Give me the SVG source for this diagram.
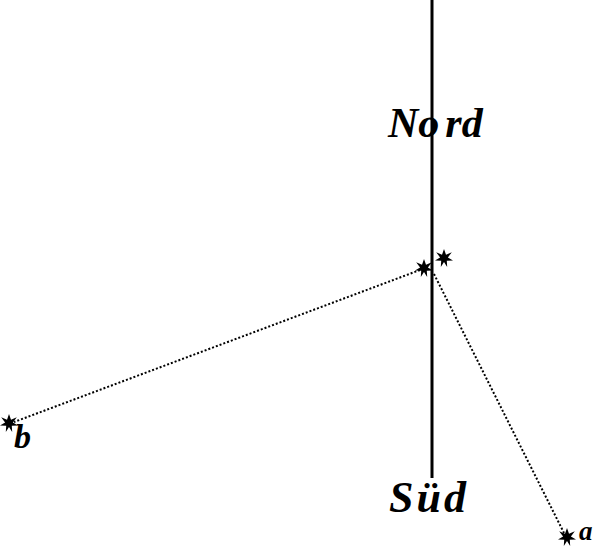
<svg xmlns="http://www.w3.org/2000/svg" xmlns:xlink="http://www.w3.org/1999/xlink" width="600" height="547" viewBox="0 0 600 547">
<style>
.lbl{font-family:"Liberation Serif","DejaVu Serif",serif;font-style:italic;font-weight:bold;fill:#000}
.dot{stroke:#000;stroke-width:2;stroke-dasharray:2 2;fill:none}
</style>
<defs>
<path id="star" d="M0,-9 L2,-3.2 L7.8,-5.8 L3.9,-0.6 L9,2.6 L2.8,2.8 L3.2,9 L0,3.9 L-3.2,9 L-2.8,2.8 L-9,2.6 L-3.9,-0.6 L-7.8,-5.8 L-2,-3.2 Z" fill="#000"/>
</defs>
<rect width="600" height="547" fill="#fff"/>
<g id="connectors">
<line x1="432" y1="0" x2="432" y2="478" stroke="#000" stroke-width="3"/>
<line class="dot" x1="420" y1="270" x2="14" y2="422"/>
<line class="dot" x1="434" y1="274" x2="564" y2="533"/>
</g>
<g id="nord"><text class="lbl" x="388" y="137" font-size="42">No<tspan dx="6">rd</tspan></text></g>
<g id="sued"><text class="lbl" x="389" y="512" font-size="44" letter-spacing="3">Süd</text></g>
<g id="center"><use xlink:href="#star" x="424" y="268"/><use xlink:href="#star" x="444" y="258"/></g>
<g id="b"><use xlink:href="#star" x="9" y="423"/><text class="lbl" x="14" y="448" font-size="34">b</text></g>
<g id="a"><use xlink:href="#star" x="567" y="537"/><text class="lbl" x="579" y="540" font-size="27">a</text></g>
</svg>
